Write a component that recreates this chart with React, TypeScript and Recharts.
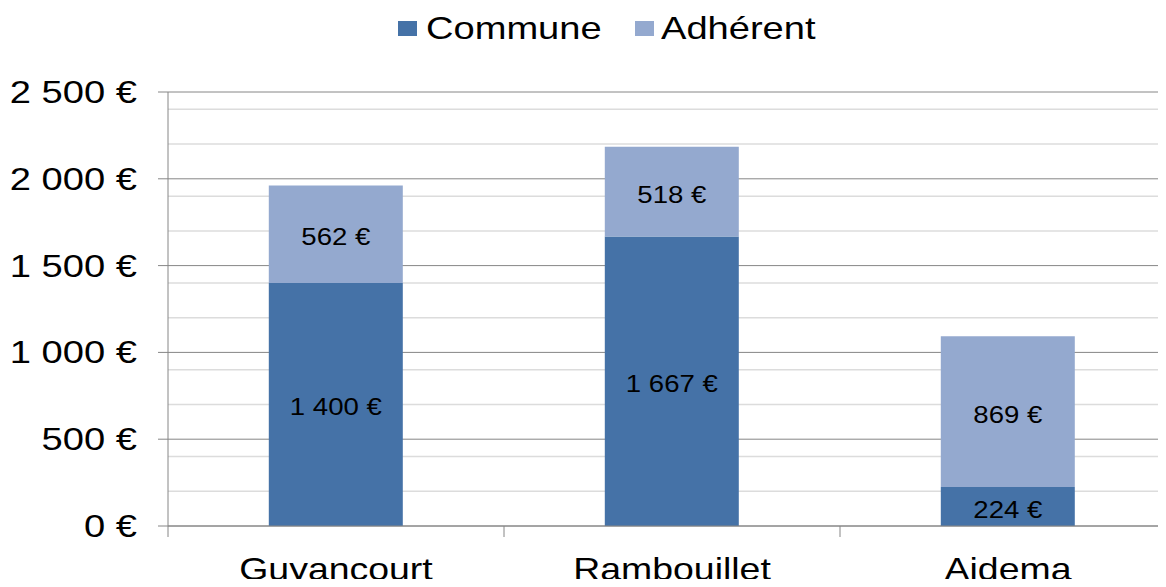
import { BarChart, Bar, XAxis, YAxis, CartesianGrid, Legend, LabelList } from "recharts";

const categories = ["Guyancourt", "Rambouillet", "Aidema"];
const communeValues = [1400, 1667, 224];
const adherentValues = [562, 518, 869];
const yTicks = [0, 500, 1000, 1500, 2000, 2500];
const minorLines = [100, 200, 300, 400, 600, 700, 800, 900, 1100, 1200, 1300, 1400, 1600, 1700, 1800, 1900, 2100, 2200, 2300, 2400];

const data = categories.map((name, i) => ({
  name,
  commune: communeValues[i],
  adherent: adherentValues[i],
}));

const FONT = "'Liberation Sans', Arial, sans-serif";
const COMMUNE = "#4572A7";
const ADHERENT = "#94A9CF";
const AXIS = "#868686";
const HALF_BAND = 168;

// the reference is a bit stretched sideways, so texts get a horizontal scale
const fmt = (v: number) => String(v).replace(/\B(?=(\d{3})+(?!\d))/g, " ") + " €";

function WideText({ x, y, anchor, size, sx, children }: { x: number; y: number; anchor: "start" | "middle" | "end"; size: number; sx: number; children: any }) {
  return (
    <text transform={`translate(${x},${y}) scale(${sx},1)`} x={0} y={0} textAnchor={anchor} fontFamily={FONT} fontSize={size} fill="#000">
      {children}
    </text>
  );
}

function CategoryTick({ x, y, payload }: { x?: number; y?: number; payload?: { value: string } }) {
  const cx = x ?? 0;
  const cy = y ?? 0;
  return (
    <g>
      <line x1={cx - HALF_BAND} x2={cx - HALF_BAND} y1={cy} y2={cy + 11} stroke={AXIS} />
      <WideText x={cx} y={cy + 54} anchor="middle" size={32} sx={1.17}>
        {payload?.value}
      </WideText>
    </g>
  );
}

function ValueTick({ x, y, payload }: { x?: number; y?: number; payload?: { value: number } }) {
  return (
    <WideText x={x ?? 0} y={(y ?? 0) + 11} anchor="end" size={31} sx={1.23}>
      {fmt(payload?.value ?? 0)}
    </WideText>
  );
}

function SegmentLabel(props: any) {
  const { x, y, width, height, value } = props;
  return (
    <WideText x={x + width / 2} y={y + height / 2 + 11} anchor="middle" size={23} sx={1.2}>
      {fmt(Number(value))}
    </WideText>
  );
}

function LegendBox() {
  const items = [
    { label: "Commune", color: COMMUNE, w: 237, gap: 9 },
    { label: "Adhérent", color: ADHERENT, w: 200, gap: 7 },
  ];
  return (
    <div style={{ display: "flex", alignItems: "center", height: 56, fontFamily: FONT, fontSize: 32, color: "#000" }}>
      {items.map((it) => (
        <div key={it.label} style={{ display: "flex", alignItems: "center", width: it.w, flex: "none" }}>
          <span style={{ width: 19, height: 15, background: it.color, marginRight: it.gap, display: "inline-block", flex: "none" }} />
          <span style={{ display: "inline-block", transform: "scaleX(1.19)", transformOrigin: "left center", whiteSpace: "nowrap" }}>{it.label}</span>
        </div>
      ))}
    </div>
  );
}

export default function App() {
  return (
    <div style={{ margin: -8, width: 1166, height: 587, overflow: "hidden", background: "#fff" }}>
      <BarChart
        width={1176}
        height={587}
        data={data}
        margin={{ top: 36, right: 0, bottom: 0, left: 0 }}
        barCategoryGap="30%"
      >
        <Legend
          verticalAlign="top"
          wrapperStyle={{ top: 0, left: 398, width: 500, height: 56 }}
          content={() => <LegendBox />}
        />
        <CartesianGrid vertical={false} horizontalValues={minorLines} stroke="#dcdcdc" strokeWidth={1.5} />
        <CartesianGrid vertical={false} horizontalValues={yTicks} stroke={AXIS} />
        <XAxis
          dataKey="name"
          height={61}
          axisLine={{ stroke: AXIS }}
          tickLine={false}
          tickSize={0}
          tickMargin={0}
          tick={<CategoryTick />}
          interval={0}
        />
        <YAxis
          width={168}
          domain={[0, 2500]}
          ticks={yTicks}
          axisLine={{ stroke: AXIS }}
          tickLine={{ stroke: AXIS }}
          tickSize={10}
          tickMargin={21}
          tick={<ValueTick />}
        />
        <Bar dataKey="commune" stackId="a" fill={COMMUNE} isAnimationActive={false}>
          <LabelList dataKey="commune" content={<SegmentLabel />} />
        </Bar>
        <Bar dataKey="adherent" stackId="a" fill={ADHERENT} isAnimationActive={false}>
          <LabelList dataKey="adherent" content={<SegmentLabel />} />
        </Bar>
      </BarChart>
    </div>
  );
}
